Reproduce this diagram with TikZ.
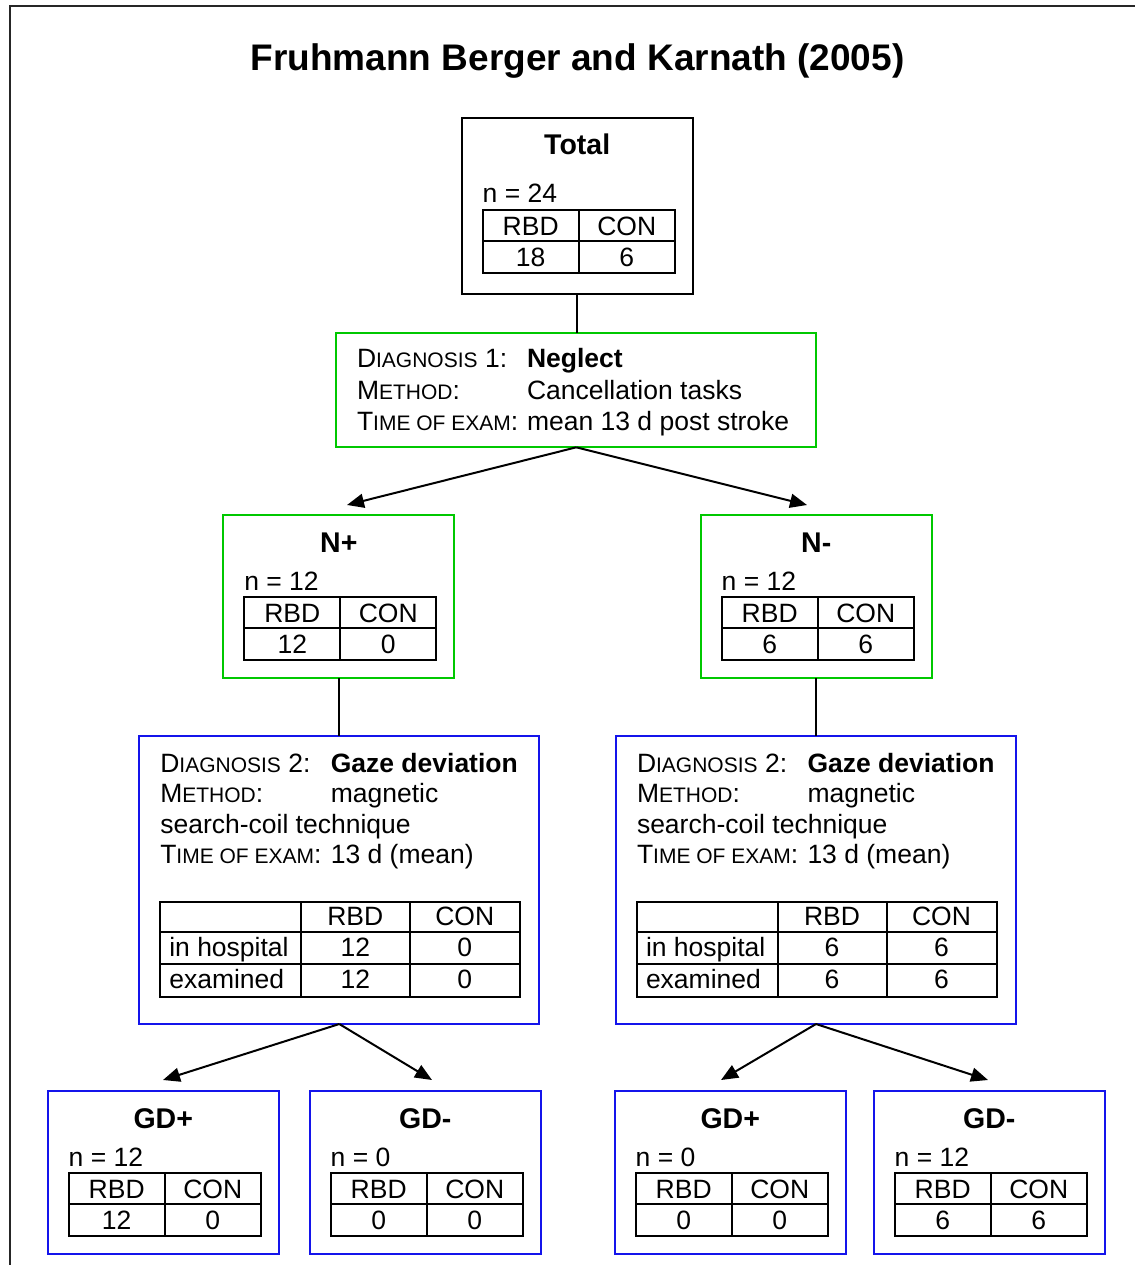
\documentclass[tikz,border=0pt]{standalone}
\usepackage{fontspec}
\setmainfont{Liberation Sans}
\usetikzlibrary{arrows.meta}

\definecolor{boxgreen}{RGB}{0,200,0}
\definecolor{boxblue}{RGB}{20,20,235}

% faked small capitals: the tail of a word set in smaller capitals
\newcommand\capsm[1]{{\fontsize{21}{21}\selectfont #1}}

\tikzset{
  txt/.style={font=\fontsize{26.5}{30}\selectfont, inner sep=0pt, outer sep=0pt},
  lbl/.style={txt, anchor=base west},
  lblb/.style={lbl, font=\fontsize{26.5}{30}\selectfont\bfseries},
  cell/.style={txt, anchor=base},
  hd/.style={font=\fontsize{28.5}{32}\selectfont\bfseries, inner sep=0pt, anchor=base},
  tab/.style={draw=black, line width=2pt},
  framebox/.style={draw=black, line width=2pt, inner sep=0pt, outer sep=0pt},
  totalbox/.style={framebox},
  greenbox/.style={framebox, draw=boxgreen},
  bluebox/.style={framebox, draw=boxblue},
  link/.style={line width=2pt},
  arr/.style={line width=2pt, -{Triangle[length=17pt,width=14pt]}},
}

% group box: name, left x, top y, extra gap, style, title, n, RBD, CON
\newcommand\cohort[9]{%
  \node[#5, anchor=north west, minimum width=231pt, minimum height={163pt+1.3pt*#4}] (#1) at (#2,#3) {};
  \node[hd] (#1-t) at (#2+115.5,#3+37) {#6};
  \node[lbl] (#1-n) at (#2+21,#3+75+#4) {n = #7};
  \draw[tab] (#2+21,#3+82+#4) rectangle (#2+213,#3+145+#4);
  \draw[tab] (#2+21,#3+113+#4) -- (#2+213,#3+113+#4);
  \draw[tab] (#2+117,#3+82+#4) -- (#2+117,#3+145+#4);
  \node[cell] (#1-h1) at (#2+69,#3+107.5+#4) {RBD};
  \node[cell] (#1-h2) at (#2+165,#3+107.5+#4) {CON};
  \node[cell] (#1-v1) at (#2+69,#3+138.7+#4) {#8};
  \node[cell] (#1-v2) at (#2+165,#3+138.7+#4) {#9};
}

% second diagnosis box: name, left x, RBD count, CON count
\newcommand\diagtwo[4]{%
  \node[bluebox, anchor=north west, minimum width=400pt, minimum height=288pt] (#1) at (#2,736) {};
  \node[lbl]  (#1-l1) at (#2+21,772) {D\capsm{IAGNOSIS} 2:};
  \node[lblb] (#1-v1) at (#2+191.5,772) {Gaze deviation};
  \node[lbl]  (#1-l2) at (#2+21,802.5) {M\capsm{ETHOD}:};
  \node[lbl]  (#1-v2) at (#2+191.5,802.5) {magnetic};
  \node[lbl]  (#1-l3) at (#2+21,833) {search-coil technique};
  \node[lbl]  (#1-l4) at (#2+21,863) {T\capsm{IME OF EXAM}:};
  \node[lbl]  (#1-v4) at (#2+191.5,863) {13 d (mean)};
  \draw[tab] (#2+20.5,901.7) rectangle (#2+380.5,996.7);
  \draw[tab] (#2+20.5,932.3) -- (#2+380.5,932.3);
  \draw[tab] (#2+20.5,964.3) -- (#2+380.5,964.3);
  \draw[tab] (#2+161.5,901.7) -- (#2+161.5,996.7);
  \draw[tab] (#2+270.5,901.7) -- (#2+270.5,996.7);
  \node[cell] (#1-h1) at (#2+216,925) {RBD};
  \node[cell] (#1-h2) at (#2+325.5,925) {CON};
  \node[lbl]  (#1-r1) at (#2+30,956.7) {in hospital};
  \node[cell] (#1-a1) at (#2+216,956.7) {#3};
  \node[cell] (#1-b1) at (#2+325.5,956.7) {#4};
  \node[lbl]  (#1-r2) at (#2+30,988) {examined};
  \node[cell] (#1-a2) at (#2+216,988) {#3};
  \node[cell] (#1-b2) at (#2+325.5,988) {#4};
}

\begin{document}
\begin{tikzpicture}[x=1pt, y=-1pt]
\useasboundingbox (0,0) rectangle (1134,1265);

% outer frame, open to the right and bottom
\draw[line width=2pt, black!85] (10,1270) -- (10,6) -- (1140,6);

\node[font=\fontsize{37}{40}\selectfont\bfseries, anchor=base, inner sep=0pt] (title) at (577.5,71) {Fruhmann Berger and Karnath (2005)};

% whole sample
\cohort{total}{461.7}{118}{10}{totalbox}{Total}{24}{18}{6}

% first diagnosis
\node[greenbox, anchor=north west, minimum width=480pt, minimum height=114pt] (diag1) at (336.3,333.3) {};
\node[lbl]  (d1-l1) at (357,367.5) {D\capsm{IAGNOSIS} 1:};
\node[lblb] (d1-v1) at (527,367.5) {Neglect};
\node[lbl]  (d1-l2) at (357,399) {M\capsm{ETHOD}:};
\node[lbl]  (d1-v2) at (527,399) {Cancellation tasks};
\node[lbl]  (d1-l3) at (357,430.5) {T\capsm{IME OF EXAM}:};
\node[lbl]  (d1-v3) at (527,430.5) {mean 13 d post stroke};

% neglect groups
\cohort{np}{223.3}{515}{0}{greenbox}{N+}{12}{12}{0}
\cohort{nm}{700.7}{515}{0}{greenbox}{N-}{12}{6}{6}

% second diagnosis
\diagtwo{d2l}{139.3}{12}{0}
\diagtwo{d2r}{616}{6}{6}

% gaze deviation groups
\cohort{gpl}{47.7}{1091}{0}{bluebox}{GD+}{12}{12}{0}
\cohort{gml}{309.7}{1091}{0}{bluebox}{GD-}{0}{0}{0}
\cohort{gpr}{614.7}{1091}{0}{bluebox}{GD+}{0}{0}{0}
\cohort{gmr}{873.7}{1091}{0}{bluebox}{GD-}{12}{6}{6}

% connectors
\coordinate (tipNp) at (347,505);
\coordinate (tipNm) at (807,505);
\coordinate (tipL1) at (163,1080);
\coordinate (tipL2) at (432,1080);
\coordinate (tipR1) at (721,1080);
\coordinate (tipR2) at (988,1080);

\draw[link] (total.south) -- (total.south |- diag1.north);
\draw[arr] (diag1.south) -- (tipNp);
\draw[arr] (diag1.south) -- (tipNm);
\draw[link] (np.south) -- (np.south |- d2l.north);
\draw[link] (nm.south) -- (nm.south |- d2r.north);
\draw[arr] (d2l.south) -- (tipL1);
\draw[arr] (d2l.south) -- (tipL2);
\draw[arr] (d2r.south) -- (tipR1);
\draw[arr] (d2r.south) -- (tipR2);
\end{tikzpicture}
\end{document}
